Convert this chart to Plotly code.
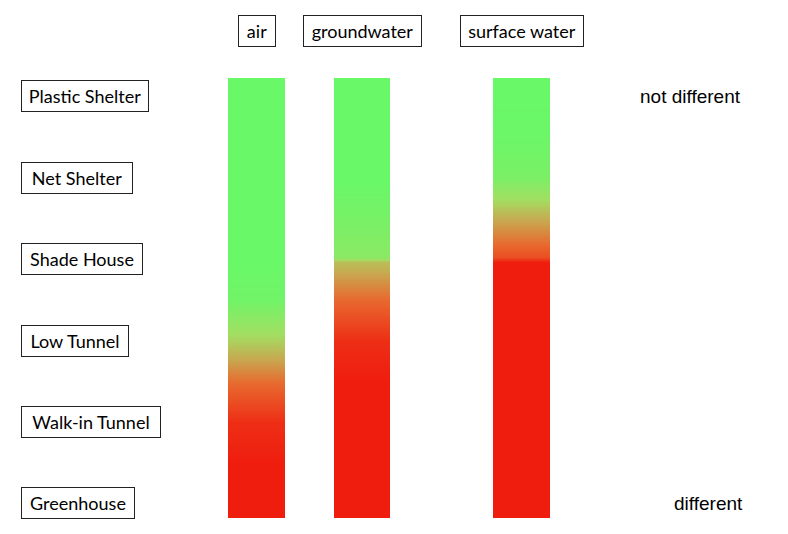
import plotly.graph_objects as go

# ---- data ----
categories = ["Plastic Shelter", "Net Shelter", "Shade House", "Low Tunnel", "Walk-in Tunnel", "Greenhouse"]
media = ["air", "groundwater", "surface water"]
# positions along the category axis (category index units) where the gradient was read
profile_pos = [-0.15, 0, 0.5, 1, 1.5, 1.97, 2.03, 2.5, 3, 3.5, 4, 4.5, 5, 5.12]
# 0 = not different (green), 1 = different (red)
air_vals = [0, 0, 0, 0, 0, 0, 0, 0.05, 0.35, 0.68, 0.93, 1, 1, 1]
groundwater_vals = [0, 0, 0, 0, 0.08, 0.18, 0.42, 0.7, 0.93, 1, 1, 1, 1, 1]
surface_vals = [0, 0, 0.02, 0.1, 0.48, 0.8, 1, 1, 1, 1, 1, 1, 1, 1]
scale_labels = ["not different", "different"]

series = [air_vals, groundwater_vals, surface_vals]

W, H = 788, 534
colorscale = [[0, "#68f868"], [0.3, "#a2de62"], [0.5, "#c8a850"], [0.7, "#e8682e"], [1, "#ef1d0e"]]

# layout (pixels)
bar_px = [(228, 285), (334, 390), (493, 550)]
header_box_w = [38, 119, 124]
row_box_w = [128, 112, 122, 108, 140, 114]
pad = 4

fig = go.Figure()
for i, (name, vals) in enumerate(zip(media, series)):
    ax = "" if i == 0 else str(i + 1)
    fig.add_trace(go.Heatmap(
        x=[name], y=profile_pos, z=[[v] for v in vals],
        colorscale=colorscale, zmin=0, zmax=1, zsmooth="best",
        showscale=False, xaxis="x" + ax, yaxis="y", hoverinfo="skip",
    ))

layout = dict(
    width=W, height=H, margin=dict(l=0, r=0, t=0, b=0),
    paper_bgcolor="white", plot_bgcolor="white", showlegend=False,
    yaxis=dict(range=[5.18, -0.225], domain=[1 - 518 / H, 1 - 78 / H], visible=False),
)
for i, (x0, x1) in enumerate(bar_px):
    key = "xaxis" if i == 0 else "xaxis%d" % (i + 1)
    layout[key] = dict(domain=[x0 / W, x1 / W], visible=False, anchor="y")
fig.update_layout(**layout)

label_font = dict(family="Lato", size=18, color="black")
for i, name in enumerate(media):
    ax = "x" if i == 0 else "x%d" % (i + 1)
    fig.add_annotation(
        text=name, xref=ax + " domain", x=0.5, xanchor="center",
        yref="paper", y=1 - 31 / H, yanchor="middle", showarrow=False,
        font=label_font, bordercolor="#222", borderwidth=1, borderpad=pad,
        bgcolor="white", width=header_box_w[i] - 2 * pad - 2, align="center",
    )
for i, cat in enumerate(categories):
    fig.add_annotation(
        text=cat, xref="paper", x=21 / W, xanchor="left",
        yref="y", y=i, yanchor="middle", showarrow=False,
        font=label_font, bordercolor="#222", borderwidth=1, borderpad=pad,
        bgcolor="white", width=row_box_w[i] - 2 * pad - 2, align="center",
    )
fig.add_annotation(text=scale_labels[0], xref="paper", x=743 / W, xanchor="right",
                   yref="y", y=0, yanchor="middle", showarrow=False,
                   font=dict(family="Liberation Sans", size=19, color="black"))
fig.add_annotation(text=scale_labels[1], xref="paper", x=745 / W, xanchor="right",
                   yref="y", y=len(categories) - 1, yanchor="middle", showarrow=False,
                   font=dict(family="Liberation Sans", size=19, color="black"))

fig.write_html("out.html", config={"displayModeBar": False},
               post_script="document.body.style.margin='0';")
